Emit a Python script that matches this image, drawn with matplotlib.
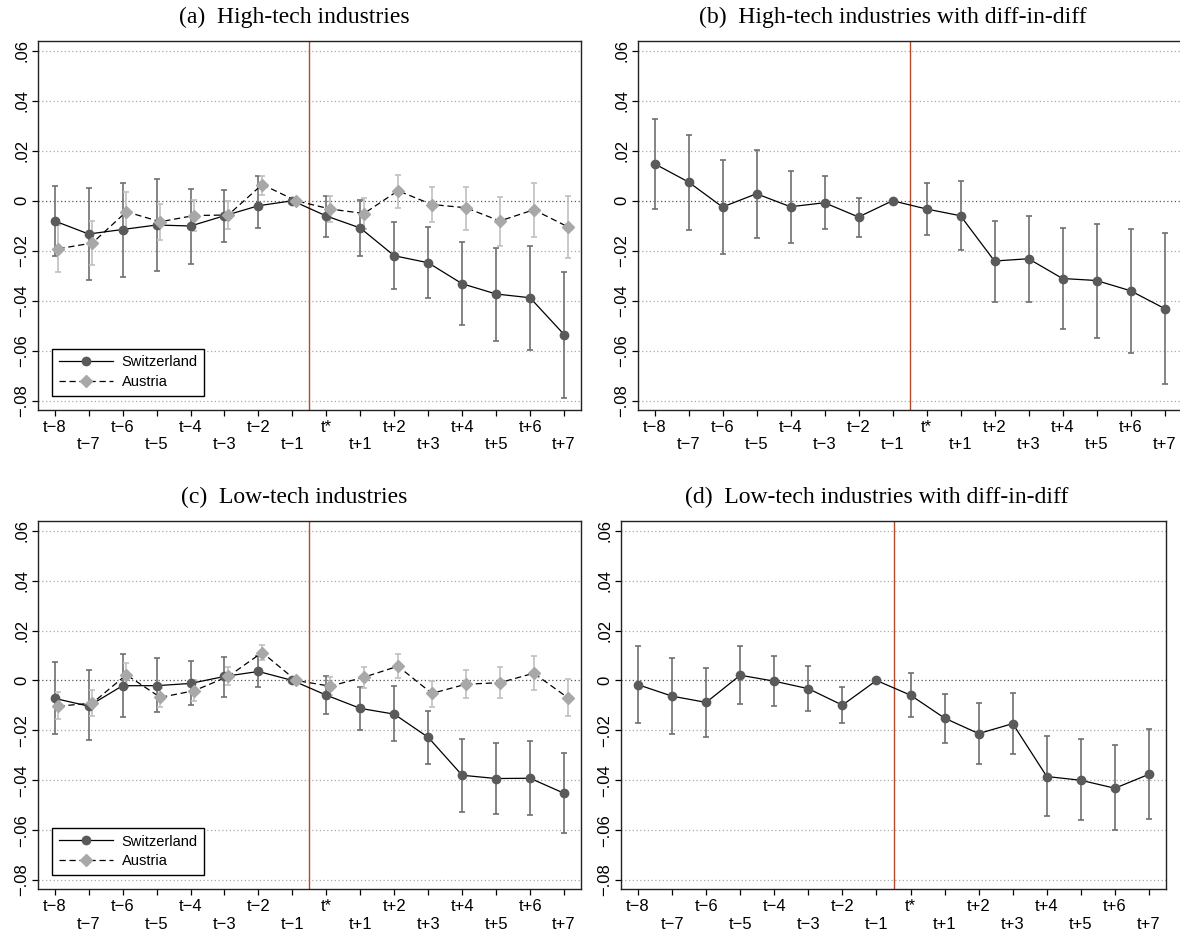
import numpy as np
import matplotlib
matplotlib.use("Agg")
import matplotlib.pyplot as plt
from matplotlib.lines import Line2D

plt.rcParams["font.family"] = ["Liberation Sans", "DejaVu Sans"]

# ---------------------------------------------------------------- data
periods = ["t−8", "t−7", "t−6", "t−5", "t−4", "t−3", "t−2", "t−1",
           "t*", "t+1", "t+2", "t+3", "t+4", "t+5", "t+6", "t+7"]
ref_idx = 7  # t-1 is the normalised reference period (no interval)

# (a) High-tech industries
hi_ch = [-0.0081, -0.0133, -0.0115, -0.0097, -0.0101, -0.0060, -0.0020, 0.0,
         -0.0061, -0.0109, -0.0220, -0.0248, -0.0332, -0.0373, -0.0388, -0.0535]
hi_ch_up = [0.0060, 0.0052, 0.0073, 0.0088, 0.0048, 0.0045, 0.0100, 0.0,
            0.0021, 0.0005, -0.0084, -0.0104, -0.0163, -0.0187, -0.0180, -0.0284]
hi_ch_lo = [-0.0220, -0.0317, -0.0304, -0.0280, -0.0251, -0.0164, -0.0110, 0.0,
            -0.0143, -0.0221, -0.0352, -0.0390, -0.0497, -0.0560, -0.0595, -0.0787]
hi_at = [-0.0192, -0.0169, -0.0044, -0.0084, -0.0059, -0.0057, 0.0065, 0.0,
         -0.0033, -0.0051, 0.0040, -0.0015, -0.0028, -0.0081, -0.0036, -0.0104]
hi_at_up = [-0.0097, -0.0081, 0.0035, -0.0012, 0.0004, 0.0001, 0.0100, 0.0,
            0.0020, 0.0011, 0.0105, 0.0057, 0.0057, 0.0016, 0.0072, 0.0020]
hi_at_lo = [-0.0284, -0.0255, -0.0121, -0.0155, -0.0121, -0.0112, 0.0025, 0.0,
            -0.0085, -0.0113, -0.0028, -0.0085, -0.0115, -0.0180, -0.0143, -0.0227]

# (b) High-tech industries, difference-in-differences
hi_dd = [0.0148, 0.0075, -0.0025, 0.0028, -0.0024, -0.0008, -0.0065, 0.0,
         -0.0033, -0.0060, -0.0241, -0.0232, -0.0311, -0.0319, -0.0360, -0.0431]
hi_dd_up = [0.0328, 0.0265, 0.0164, 0.0203, 0.0121, 0.0099, 0.0013, 0.0,
            0.0071, 0.0080, -0.0079, -0.0060, -0.0108, -0.0091, -0.0112, -0.0127]
hi_dd_lo = [-0.0031, -0.0115, -0.0211, -0.0147, -0.0167, -0.0113, -0.0144, 0.0,
            -0.0136, -0.0197, -0.0403, -0.0403, -0.0513, -0.0547, -0.0607, -0.0731]

# (c) Low-tech industries
lo_ch = [-0.0072, -0.0103, -0.0021, -0.0021, -0.0012, 0.0016, 0.0036, 0.0,
         -0.0059, -0.0112, -0.0135, -0.0228, -0.0380, -0.0393, -0.0392, -0.0452]
lo_ch_up = [0.0075, 0.0040, 0.0107, 0.0088, 0.0077, 0.0095, 0.0099, 0.0,
            0.0019, -0.0027, -0.0024, -0.0121, -0.0235, -0.0249, -0.0241, -0.0292]
lo_ch_lo = [-0.0216, -0.0239, -0.0145, -0.0128, -0.0100, -0.0067, -0.0027, 0.0,
            -0.0136, -0.0200, -0.0243, -0.0335, -0.0527, -0.0537, -0.0540, -0.0611]
lo_at = [-0.0103, -0.0091, 0.0023, -0.0068, -0.0041, 0.0016, 0.0112, 0.0,
         -0.0023, 0.0013, 0.0057, -0.0052, -0.0015, -0.0009, 0.0029, -0.0069]
lo_at_up = [-0.0048, -0.0037, 0.0071, -0.0032, 0.0000, 0.0055, 0.0141, 0.0,
            0.0015, 0.0055, 0.0107, -0.0001, 0.0043, 0.0053, 0.0099, 0.0004]
lo_at_lo = [-0.0156, -0.0143, -0.0025, -0.0108, -0.0081, -0.0020, 0.0083, 0.0,
            -0.0059, -0.0029, 0.0008, -0.0105, -0.0071, -0.0072, -0.0037, -0.0141]

# (d) Low-tech industries, difference-in-differences
lo_dd = [-0.0017, -0.0063, -0.0088, 0.0021, -0.0003, -0.0033, -0.0099, 0.0,
         -0.0059, -0.0151, -0.0213, -0.0173, -0.0385, -0.0400, -0.0432, -0.0376]
lo_dd_up = [0.0140, 0.0091, 0.0051, 0.0139, 0.0097, 0.0059, -0.0025, 0.0,
            0.0031, -0.0053, -0.0089, -0.0052, -0.0221, -0.0236, -0.0260, -0.0195]
lo_dd_lo = [-0.0172, -0.0216, -0.0225, -0.0096, -0.0103, -0.0124, -0.0171, 0.0,
            -0.0145, -0.0249, -0.0336, -0.0296, -0.0545, -0.0561, -0.0599, -0.0555]

ytick_vals = [0.06, 0.04, 0.02, 0.0, -0.02, -0.04, -0.06, -0.08]
ytick_text = [".06", ".04", ".02", "0", "−.02", "−.04", "−.06", "−.08"]

titles = ["(a)  High-tech industries",
          "(b)  High-tech industries with diff-in-diff",
          "(c)  Low-tech industries",
          "(d)  Low-tech industries with diff-in-diff"]

# ---------------------------------------------------------------- style
W, H = 1180, 934
CH_MARK = "#5a5a5a"
CH_BAR = "#707070"
AT_MARK = "#a8a8a8"
AT_BAR = "#c0c0c0"
EVENT = "#b4492c"
AT_SHIFT = 0.11

fig = plt.figure(figsize=(W / 100, H / 100), dpi=100)


def axes_px(left, top, right, bottom):
    return fig.add_axes([left / W, 1 - bottom / H, (right - left) / W, (bottom - top) / H])


def frame(ax):
    x = np.arange(len(periods))
    ax.set_xlim(-0.5, len(periods) - 0.5)
    ax.set_ylim(-0.0837, 0.0639)
    for v in ytick_vals:
        ax.axhline(v, color="#555555" if v == 0 else "#a8a8a8", lw=0.9,
                   ls=(0, (1, 2)), zorder=0)
    ax.axvline(7.5, color=EVENT, lw=1.0, zorder=1)
    ax.set_yticks(ytick_vals)
    ax.set_yticklabels(ytick_text, rotation=90, va="center", fontsize=12)
    ax.set_xticks(x[::2])
    ax.set_xticklabels(periods[::2], fontsize=12)
    ax.set_xticks(x[1::2], minor=True)
    ax.set_xticklabels(periods[1::2], minor=True, fontsize=12)
    ax.tick_params(axis="both", which="both", direction="out", length=4,
                   width=0.9, color="black")
    ax.tick_params(axis="x", which="major", pad=3)
    ax.tick_params(axis="x", which="minor", pad=15.6)
    ax.tick_params(axis="y", pad=2)
    for s in ax.spines.values():
        s.set_linewidth(1.0)
        s.set_color("#222222")


def series(ax, est, up, lo, shift, mcolor, bcolor, marker, ms, dashed):
    x = np.arange(len(periods)) + shift
    est = np.asarray(est)
    up = np.asarray(up)
    lo = np.asarray(lo)
    keep = np.arange(len(periods)) != ref_idx
    ax.errorbar(x[keep], est[keep], yerr=[est[keep] - lo[keep], up[keep] - est[keep]],
                fmt="none", ecolor=bcolor, elinewidth=1.2, capsize=2.4,
                capthick=1.2, zorder=2)
    ax.plot(x, est, color="black", lw=0.9,
            ls=(0, (5, 3)) if dashed else "-", zorder=3)
    ax.plot(x, est, ls="none", marker=marker, ms=ms, mfc=mcolor, mec=mcolor,
            zorder=4)


def add_legend(ax):
    handles = [
        Line2D([], [], color="black", lw=0.9, marker="o", ms=6,
               mfc=CH_MARK, mec=CH_MARK),
        Line2D([], [], color="black", lw=0.9, ls=(0, (5, 3)), marker="D", ms=6,
               mfc=AT_MARK, mec=AT_MARK),
    ]
    leg = ax.legend(handles, ["Switzerland", "Austria"], loc="lower left",
                    bbox_to_anchor=(0.027, 0.039), borderaxespad=0,
                    fontsize=10.5, handlelength=3.7, handletextpad=0.6,
                    labelspacing=0.4, borderpad=0.45, fancybox=False,
                    framealpha=1, edgecolor="black")
    leg.get_frame().set_linewidth(1.0)


ax_a = axes_px(37.7, 41, 581, 410)
ax_b = axes_px(637.5, 41, 1181.5, 410)
ax_c = axes_px(37.7, 521, 581, 889.3)
ax_d = axes_px(621, 521, 1166, 889.3)

for ax in (ax_a, ax_b, ax_c, ax_d):
    frame(ax)

series(ax_a, hi_ch, hi_ch_up, hi_ch_lo, 0.0, CH_MARK, CH_BAR, "o", 6, False)
series(ax_a, hi_at, hi_at_up, hi_at_lo, AT_SHIFT, AT_MARK, AT_BAR, "D", 6, True)
add_legend(ax_a)

series(ax_b, hi_dd, hi_dd_up, hi_dd_lo, 0.0, CH_MARK, CH_BAR, "o", 6, False)

series(ax_c, lo_ch, lo_ch_up, lo_ch_lo, 0.0, CH_MARK, CH_BAR, "o", 6, False)
series(ax_c, lo_at, lo_at_up, lo_at_lo, AT_SHIFT, AT_MARK, AT_BAR, "D", 6, True)
add_legend(ax_c)

series(ax_d, lo_dd, lo_dd_up, lo_dd_lo, 0.0, CH_MARK, CH_BAR, "o", 6, False)

title_pos = [(294, 17), (893, 17), (294, 497), (877, 497)]
for (tx, ty), t in zip(title_pos, titles):
    fig.text(tx / W, 1 - ty / H, t, ha="center", va="center", fontsize=17,
             family=["Liberation Serif", "DejaVu Serif"])

fig.savefig("out.png", dpi=100)
